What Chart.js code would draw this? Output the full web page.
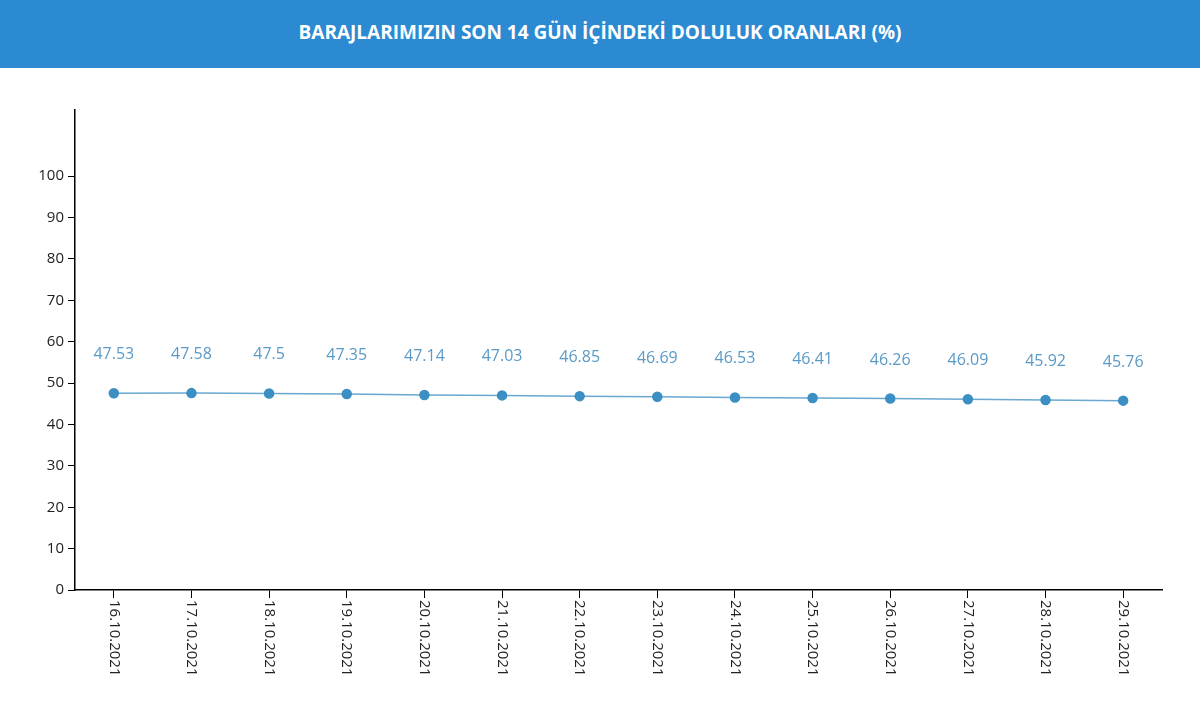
<!DOCTYPE html>
<html>
<head>
<meta charset="utf-8">
<script src="https://cdn.jsdelivr.net/npm/chart.js@4"></script>
<style>
  body { margin: 0; background: #fff; font-family: "Open Sans", sans-serif; }
  .header { height: 68px; background: #2b8ad2; color: #fff; font-weight: bold; font-size: 19px;
            text-align: center; line-height: 64px; }
  .wrap { position: relative; width: 1200px; height: 646px; }
</style>
</head>
<body>
<div class="header">BARAJLARIMIZIN SON 14 GÜN İÇİNDEKİ DOLULUK ORANLARI (%)</div>
<div class="wrap"><canvas id="damChart"></canvas></div>
<script>
const dates = ['16.10.2021', '17.10.2021', '18.10.2021', '19.10.2021', '20.10.2021', '21.10.2021', '22.10.2021',
    '23.10.2021', '24.10.2021', '25.10.2021', '26.10.2021', '27.10.2021', '28.10.2021', '29.10.2021'];
const rates = [47.53, 47.58, 47.5, 47.35, 47.14, 47.03, 46.85, 46.69, 46.53, 46.41, 46.26, 46.09, 45.92, 45.76];

const labelPlugin = {
    id: 'labels',
    afterDatasetsDraw(chart) {
        const ctx = chart.ctx;
        const meta = chart.getDatasetMeta(0);
        const x = chart.scales.x;
        ctx.save();
        ctx.font = '16px "Open Sans", sans-serif';
        ctx.fillStyle = '#5a9ac6';
        ctx.textAlign = 'center';
        meta.data.forEach((pt, i) => {
            ctx.fillText(String(rates[i]), pt.x, pt.y - 34);
        });
        ctx.fillStyle = '#222';
        ctx.font = '15px "Open Sans", sans-serif';
        ctx.textAlign = 'left';
        ctx.textBaseline = 'middle';
        dates.forEach((d, i) => {
            const px = x.getPixelForValue(i);
            ctx.save();
            ctx.translate(px, x.bottom - x.height + 10);
            ctx.rotate(Math.PI / 2);
            ctx.fillText(d, 0, 0);
            ctx.restore();
        });
        ctx.restore();
    }
};

new Chart(document.getElementById('damChart'), {
    type: 'line',
    data: {
        labels: dates,
        datasets: [{
            data: rates,
            borderColor: '#6aa8d2',
            borderWidth: 1.5,
            pointBackgroundColor: '#3b8fc2',
            pointBorderColor: '#3b8fc2',
            pointRadius: 4.5,
            tension: 0
        }]
    },
    options: {
        responsive: true,
        maintainAspectRatio: false,
        animation: false,
        layout: { padding: { right: 38, top: 42 } },
        plugins: { legend: { display: false }, tooltip: { enabled: false } },
        scales: {
            x: {
                offset: true,
                afterFit: s => { s.height = 124; },
                grid: { drawOnChartArea: false, offset: false, color: '#000', tickLength: 8 },
                border: { color: '#000', width: 1.5 },
                ticks: { display: false }
            },
            y: {
                min: 0, max: 116,
                afterFit: s => { s.width = 75; },
                afterBuildTicks: s => { s.ticks = s.ticks.filter(t => t.value <= 100); },
                grid: { drawOnChartArea: false, color: '#000', tickLength: 7 },
                border: { color: '#000', width: 1.5 },
                ticks: { stepSize: 10, color: '#222', font: { size: 15, family: '"Open Sans", sans-serif' }, padding: 4 }
            }
        }
    },
    plugins: [labelPlugin]
});
</script>
</body>
</html>
